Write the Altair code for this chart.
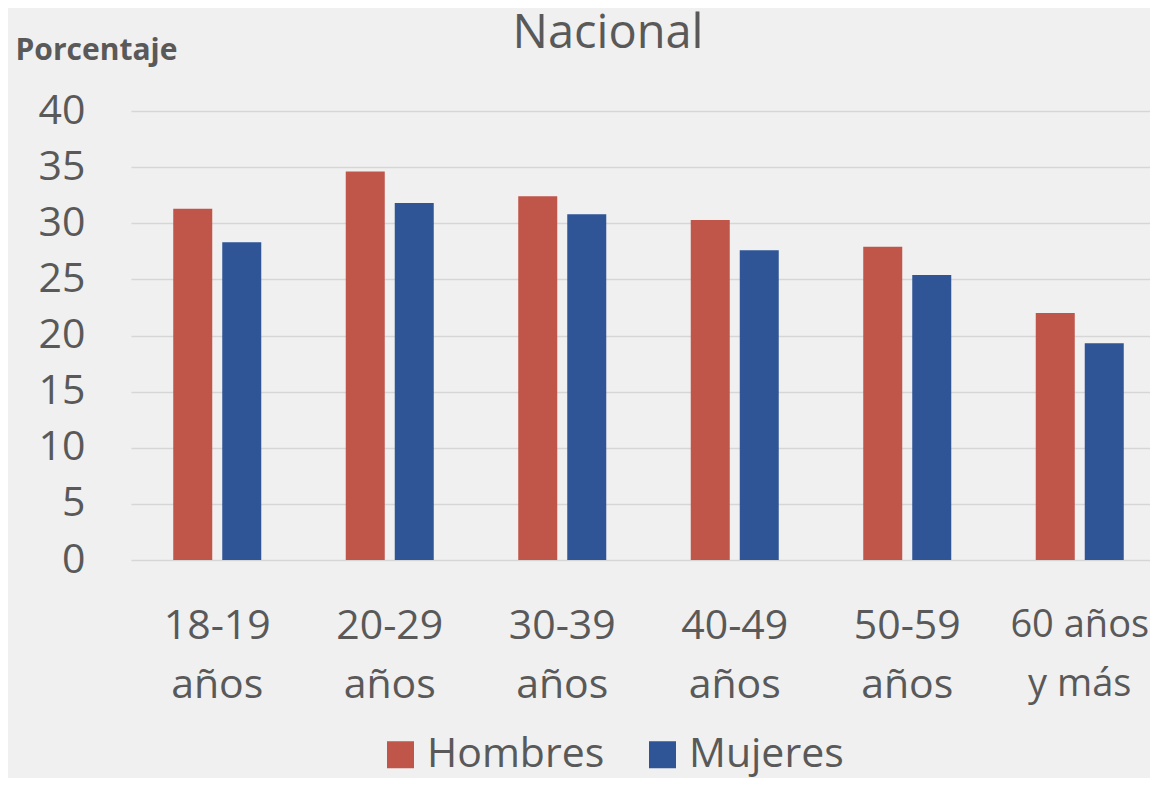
import altair as alt
import pandas as pd

categories = ["18-19 años", "20-29 años", "30-39 años", "40-49 años", "50-59 años", "60 años y más"]
series = ["Hombres", "Mujeres"]
hombres = [31.3, 34.6, 32.4, 30.3, 27.9, 22.0]
mujeres = [28.3, 31.8, 30.8, 27.6, 25.4, 19.3]
y_ticks = [0, 5, 10, 15, 20, 25, 30, 35, 40]
colors = ["#C0554A", "#2F5597"]
chart_title = "Nacional"

rows = []
for c, h, m in zip(categories, hombres, mujeres):
    rows.append({"grupo": c, "sexo": series[0], "valor": h})
    rows.append({"grupo": c, "sexo": series[1], "valor": m})
df = pd.DataFrame(rows)

FONT = "Open Sans"
GRAY = "#595959"

label_expr = "datum.label == '60 años y más' ? ['60 años', 'y más'] : split(datum.label, ' ')"
x_label_size = {"condition": {"test": "datum.value == '60 años y más'", "value": 38}, "value": 41}

bars = alt.Chart(df).mark_bar().encode(
    x=alt.X(
        "grupo:N",
        sort=categories,
        scale=alt.Scale(paddingInner=0, paddingOuter=0, range=[0, 1035]),
        axis=alt.Axis(
            title=None, labelExpr=label_expr, labelAngle=0, labelFontSize=x_label_size,
            labelFont=FONT, labelColor=GRAY, ticks=False, domain=False,
            labelPadding=46, labelLineHeight=59, labelBaseline="top", grid=False,
            labelLimit=300,
        ),
    ),
    xOffset=alt.XOffset("sexo:N", sort=series,
                        scale=alt.Scale(paddingInner=0.204, paddingOuter=0.862)),
    y=alt.Y(
        "valor:Q",
        scale=alt.Scale(domain=[0, 40]),
        axis=alt.Axis(
            values=y_ticks, title="Porcentaje", titleAngle=0, titleAlign="left",
            titleBaseline="alphabetic", titleX=-116, titleY=-52,
            titleFontSize=30, titleFontWeight="bold", titleFont=FONT, titleColor=GRAY,
            labelFontSize=41, labelFont=FONT, labelColor=GRAY, labelPadding=46,
            ticks=False, domain=False, gridColor="#d6d6d6", gridWidth=1.5,
        ),
    ),
    color=alt.Color(
        "sexo:N", sort=series,
        scale=alt.Scale(domain=series, range=colors),
        legend=alt.Legend(
            title=None, orient="none", direction="horizontal",
            legendX=249, legendY=623, symbolType="square", symbolSize=729,
            symbolStrokeWidth=0, labelFontSize=41, labelFont=FONT, labelColor=GRAY,
            labelOffset=6, columnPadding=37, padding=0, labelLimit=400,
        ),
    ),
)

title_df = pd.DataFrame({"t": [chart_title]})
title = alt.Chart(title_df).mark_text(
    font=FONT, fontSize=47, color=GRAY, align="center", baseline="alphabetic"
).encode(text="t:N", x=alt.value(477), y=alt.value(-63))

chart = alt.layer(bars, title).properties(
    width=1019,
    height=449,
    background="#f0f0f0",
    padding={"left": 123, "top": 103, "right": 0, "bottom": 218},
    autosize=alt.AutoSizeParams(type="none"),
).configure_view(stroke=None)

chart.save("out.html", embed_options={"renderer": "svg", "actions": False})
